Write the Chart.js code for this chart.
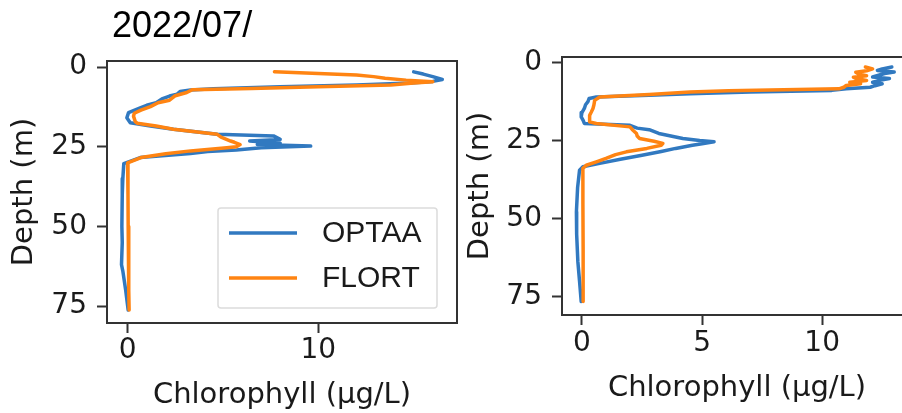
<!DOCTYPE html>
<html>
<head>
<meta charset="utf-8">
<script src="https://cdn.jsdelivr.net/npm/chart.js@4.4.0/dist/chart.umd.min.js"></script>
<style>
  html, body { margin: 0; padding: 0; background: #fff; width: 902px; height: 413px; overflow: hidden; }
  .panel { position: absolute; top: 0; }
</style>
</head>
<body>
<div class="panel" style="left:0;width:462px;height:413px"><canvas id="left" width="462" height="413"></canvas></div>
<div class="panel" style="left:455px;width:465px;height:413px"><canvas id="right" width="465" height="413"></canvas></div>
<script>
// left profile
const leftOptaaDepth = [1.5, 2.2, 3.0, 3.9, 4.5, 5.0, 5.6, 6.2, 6.8, 7.2, 7.7, 8.5, 9.1, 10.0, 11.2, 12.0, 12.8, 14.3, 15.9, 17.5, 18.5, 19.5, 21.1, 21.6, 22.7, 23.2, 23.9, 24.3, 24.8, 25.3, 26.0, 26.5, 27.1, 28.4, 30.3, 35, 40, 50, 55, 62, 64, 70, 76.2];
const leftOptaaChl   = [15.0, 15.5, 16.0, 16.5, 16.0, 14.8, 12.0, 8.0, 4.5, 3.3, 2.75, 2.6, 2.2, 1.8, 1.5, 1.0, 0.66, 0.05, -0.04, 0.14, 1.2, 2.4, 4.7, 7.65, 8.0, 6.4, 8.0, 6.8, 9.6, 7.0, 5.7, 4.2, 3.3, 0.66, -0.2, -0.25, -0.28, -0.3, -0.28, -0.32, -0.25, -0.1, 0.03];
const leftFlortDepth = [1.5, 2.0, 2.5, 3.0, 3.5, 4.1, 4.6, 5.0, 5.6, 6.2, 6.7, 7.1, 8.0, 9.0, 10.4, 11.2, 12.4, 13.5, 14.5, 15.4, 17.1, 17.6, 18.5, 19.5, 21.1, 22.0, 23.2, 23.6, 24.3, 25.0, 25.3, 26.3, 27.2, 28.4, 30.1, 40, 50, 60, 70, 76.2];
const leftFlortChl   = [7.7, 10.0, 12.0, 12.9, 13.5, 14.6, 16.0, 15.0, 13.8, 10.0, 6.5, 3.4, 3.1, 2.5, 2.2, 1.6, 1.2, 0.7, 0.35, 0.31, 0.4, 0.5, 1.5, 2.4, 4.7, 4.9, 5.4, 5.6, 5.9, 5.7, 5.2, 3.3, 2.0, 0.7, 0.0, 0.02, 0.03, 0.05, 0.07, 0.08];

// right profile
const rightOptaaDepth = [1.4, 2.0, 2.5, 3.0, 3.5, 4.6, 5.1, 5.7, 6.3, 6.8, 7.4, 7.9, 8.4, 8.9, 9.4, 10.0, 10.5, 11.0, 11.5, 12.5, 13.5, 14.7, 16.0, 17.4, 18.5, 19.5, 20.1, 21.0, 21.5, 22.7, 23.5, 24.3, 25.0, 25.4, 26.0, 26.5, 27.5, 28.5, 29.7, 31.0, 32.3, 33.4, 34.5, 40, 47.8, 55, 63.8, 70, 76.6];
const rightOptaaChl   = [12.9, 12.5, 12.3, 13.0, 12.6, 12.1, 12.8, 12.4, 12.1, 12.5, 12.2, 12.0, 11.0, 10.4, 7.0, 4.5, 2.8, 0.6, 0.3, 0.25, 0.15, 0.1, 0.0, -0.03, 0.05, 0.1, 2.0, 2.3, 2.8, 3.2, 3.7, 4.2, 4.9, 5.5, 5.0, 4.6, 3.9, 3.3, 2.5, 1.6, 0.74, 0.04, -0.1, -0.18, -0.23, -0.22, -0.17, -0.1, -0.03];
const rightFlortDepth = [1.4, 2.0, 2.6, 3.1, 3.6, 4.2, 4.7, 5.1, 5.7, 6.3, 6.8, 7.3, 7.9, 8.4, 9.0, 9.4, 10.2, 11.0, 12.1, 13.5, 14.7, 16.0, 16.9, 19.0, 19.5, 20.6, 21.5, 22.7, 23.5, 24.3, 25.2, 25.9, 26.5, 27.5, 28.6, 29.5, 30.7, 31.8, 32.9, 33.9, 45, 60, 76.6];
const rightFlortChl   = [11.8, 12.1, 11.85, 11.4, 11.5, 11.85, 11.3, 11.4, 11.85, 11.15, 11.6, 11.0, 10.9, 10.7, 6.1, 4.5, 2.8, 0.74, 0.53, 0.5, 0.46, 0.38, 0.32, 0.32, 0.6, 2.0, 2.1, 2.27, 2.3, 2.4, 3.0, 3.37, 3.3, 2.7, 1.85, 1.4, 1.0, 0.6, 0.18, 0.04, 0.04, 0.05, 0.05];

const depthTicks = [0, 25, 50, 75];
const leftChlTicks = [0, 10];
const rightChlTicks = [0, 5, 10];

const seriesNames = ['OPTAA', 'FLORT'];
const seriesColors = ['#3179c0', '#ff8412'];

const TICK_FONT = { family: 'DejaVu Sans', size: 28 };
const LABEL_FONT = { family: 'DejaVu Sans', size: 29 };
const INK = '#1a1a1a';
const SPINE = '#333';

function pairs(depths, values) {
  return depths.map((d, i) => ({ x: values[i], y: d }));
}

// full box round the axes, like matplotlib spines
const frame = {
  id: 'frame',
  afterDraw(chart) {
    const { ctx, chartArea: a } = chart;
    ctx.save();
    ctx.strokeStyle = SPINE;
    ctx.lineWidth = 2;
    ctx.strokeRect(a.left, a.top, a.right - a.left, a.bottom - a.top);
    ctx.restore();
  }
};

const heading = {
  id: 'heading',
  afterDraw(chart, args, o) {
    if (!o.text) return;
    const ctx = chart.ctx;
    ctx.save();
    ctx.font = '36px "Liberation Sans"';
    ctx.fillStyle = '#000';
    ctx.textBaseline = 'alphabetic';
    ctx.fillText(o.text, o.x, o.y);
    ctx.restore();
  }
};

const boxLegend = {
  id: 'boxLegend',
  afterDraw(chart, args, o) {
    if (!o.show) return;
    const { ctx, chartArea: a } = chart;
    const right = a.right - 20, bottom = a.bottom - 15;
    const w = 219, h = 100;
    const left = right - w, top = bottom - h;
    ctx.save();
    ctx.fillStyle = 'rgba(255,255,255,0.85)';
    ctx.strokeStyle = '#dcdcdc';
    ctx.lineWidth = 1.5;
    ctx.beginPath();
    ctx.roundRect(left, top, w, h, 3);
    ctx.fill();
    ctx.stroke();
    ctx.font = '30px "Liberation Sans"';
    ctx.textBaseline = 'middle';
    chart.data.datasets.forEach((ds, i) => {
      const y = top + 25 + i * 45;
      ctx.strokeStyle = ds.borderColor;
      ctx.lineWidth = 3.5;
      ctx.beginPath();
      ctx.moveTo(left + 11, y);
      ctx.lineTo(left + 79, y);
      ctx.stroke();
      ctx.fillStyle = INK;
      ctx.fillText(ds.label, left + 104, y + 1);
    });
    ctx.restore();
  }
};

function makeProfile(id, cfg) {
  const datasets = cfg.series.map((s, i) => ({
    label: seriesNames[i],
    data: pairs(s.depth, s.chl),
    borderColor: seriesColors[i],
    backgroundColor: seriesColors[i],
    borderWidth: 3.5,
    borderJoinStyle: 'round',
    borderCapStyle: 'round',
    pointRadius: 0,
    tension: 0,
    showLine: true,
    order: i === 0 ? 1 : 0
  }));

  return new Chart(document.getElementById(id), {
    type: 'scatter',
    data: { datasets },
    plugins: [frame, heading, boxLegend],
    options: {
      responsive: false,
      animation: false,
      layout: { padding: { left: 0, top: cfg.top, right: cfg.right, bottom: 0 } },
      plugins: {
        legend: { display: false },
        tooltip: { enabled: false },
        heading: cfg.heading || {},
        boxLegend: { show: !!cfg.legend }
      },
      scales: {
        x: {
          type: 'linear',
          min: cfg.xMin, max: cfg.xMax,
          afterBuildTicks: s => { s.ticks = cfg.xTicks.map(v => ({ value: v })); },
          afterFit: s => { s.height = cfg.xHeight; },
          grid: { drawOnChartArea: false, drawTicks: true, tickLength: 10, tickWidth: 2, tickColor: SPINE },
          border: { display: false },
          ticks: { font: TICK_FONT, color: INK, padding: cfg.xTickPad, maxRotation: 0 },
          title: { display: true, text: 'Chlorophyll (μg/L)', font: LABEL_FONT, color: INK, padding: { top: 0, bottom: cfg.xTitlePad } }
        },
        y: {
          type: 'linear',
          reverse: true,
          min: cfg.yMin, max: cfg.yMax,
          afterBuildTicks: s => { s.ticks = depthTicks.map(v => ({ value: v })); },
          afterFit: s => { s.width = 107; },
          grid: { drawOnChartArea: false, drawTicks: true, tickLength: 10, tickWidth: 2, tickColor: SPINE },
          border: { display: false },
          ticks: { font: TICK_FONT, color: INK, padding: 10 },
          title: { display: true, text: 'Depth (m)', font: LABEL_FONT, color: INK, padding: { top: cfg.yTitlePad, bottom: 0 } }
        }
      }
    }
  });
}

makeProfile('left', {
  series: [
    { depth: leftOptaaDepth, chl: leftOptaaChl },
    { depth: leftFlortDepth, chl: leftFlortChl }
  ],
  top: 61, right: 5,
  xMin: -1.08, xMax: 17.27, xTicks: leftChlTicks, xHeight: 90, xTickPad: 1, xTitlePad: 0,
  yMin: -1.9, yMax: 80.3, yTitlePad: 7,
  heading: { text: '2022/07/', x: 112, y: 37 },
  legend: true
});

makeProfile('right', {
  series: [
    { depth: rightOptaaDepth, chl: rightOptaaChl },
    { depth: rightFlortDepth, chl: rightFlortChl }
  ],
  top: 57, right: 8,
  xMin: -0.83, xMax: 13.74, xTicks: rightChlTicks, xHeight: 98, xTickPad: 2, xTitlePad: 7,
  yMin: -1.8, yMax: 80.9, yTitlePad: 8,
  legend: false
});
</script>
</body>
</html>
